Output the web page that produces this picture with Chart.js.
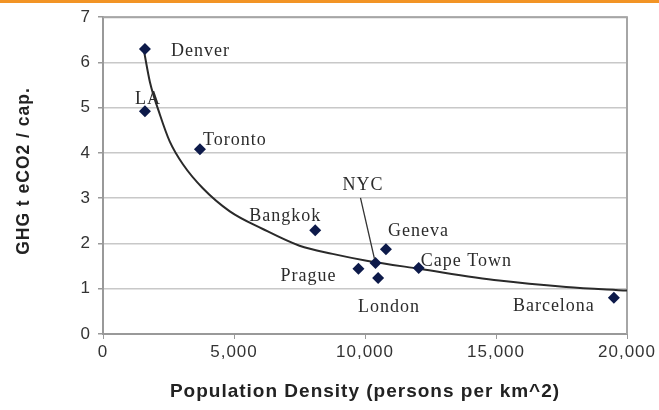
<!DOCTYPE html>
<html>
<head>
<meta charset="utf-8">
<script src="https://cdn.jsdelivr.net/npm/chart.js@4/dist/chart.umd.min.js"></script>
<style>
  body { margin: 0; background: #fff; }
  #wrap { width: 659px; height: 410px; }
</style>
</head>
<body>
<div id="wrap"><canvas id="ghgChart"></canvas></div>
<script>
// cities and their values
const cities = ["Denver", "LA", "Toronto", "Bangkok", "Prague", "NYC", "London", "Geneva", "Cape Town", "Barcelona"];
const density = [1600, 1600, 3700, 8100, 9750, 10400, 10500, 10800, 12050, 19500];
const emissions = [6.3, 4.92, 4.08, 2.29, 1.44, 1.57, 1.24, 1.87, 1.46, 0.8];

// trend curve
const trendDensity = [1560, 1790, 2170, 2550, 3050, 3810, 4840, 6100, 7500, 8760, 10060, 12080, 15120, 17680, 20000];
const trendEmissions = [6.27, 5.57, 4.85, 4.25, 3.75, 3.22, 2.71, 2.32, 1.95, 1.77, 1.62, 1.44, 1.18, 1.04, 0.96];

const xTickStep = 5000;
const yTickStep = 1;
const yTitle = 'GHG t eCO2 / cap.';

// where each label sits relative to its marker (px)
const labelNudge = {
  "Denver": [26, 2], "LA": [-10, -12], "Toronto": [3, -9], "Bangkok": [-66, -14],
  "Prague": [-78, 7], "NYC": [-33, -78], "London": [-20, 29], "Geneva": [2, -18],
  "Cape Town": [2, -7], "Barcelona": [-101, 8]
};

const spacing = {
  id: 'spacing',
  beforeLayout(chart) { chart.ctx.letterSpacing = '1px'; },
  beforeDraw(chart) {
    const ctx = chart.ctx;
    ctx.letterSpacing = '1px';
    ctx.save();
    ctx.fillStyle = '#F29425';
    ctx.fillRect(0, 0, chart.width, 3);
    ctx.restore();
  }
};

const frame = {
  id: 'frame',
  beforeDatasetsDraw(chart) {
    const {ctx, chartArea: a} = chart;
    ctx.save();
    ctx.strokeStyle = '#a6a6a6';
    ctx.lineWidth = 2;
    ctx.beginPath();
    ctx.moveTo(a.left, a.top);
    ctx.lineTo(a.right, a.top);
    ctx.lineTo(a.right, a.bottom);
    ctx.stroke();
    ctx.restore();
  },
  afterDraw(chart) {
    // y title drawn by hand, it sits a little above the axis middle
    const ctx = chart.ctx;
    ctx.save();
    ctx.translate(29, 171);
    ctx.rotate(-Math.PI / 2);
    ctx.font = 'bold 17.5px "Liberation Sans", Arial, sans-serif';
    ctx.fillStyle = '#222';
    ctx.textAlign = 'center';
    ctx.textBaseline = 'alphabetic';
    ctx.fillText(yTitle, 0, 0);
    ctx.restore();
  }
};

const cityLabels = {
  id: 'cityLabels',
  afterDatasetsDraw(chart) {
    const ctx = chart.ctx;
    const meta = chart.getDatasetMeta(0);
    ctx.save();
    ctx.font = '18px "Liberation Serif", "Times New Roman", serif';
    ctx.fillStyle = '#2b2b2b';
    ctx.textBaseline = 'middle';
    ctx.textAlign = 'left';
    meta.data.forEach((pt, i) => {
      const n = labelNudge[cities[i]];
      ctx.fillText(cities[i], pt.x + n[0], pt.y + n[1]);
      if (cities[i] === "NYC") {
        ctx.strokeStyle = '#333';
        ctx.lineWidth = 1.3;
        ctx.beginPath();
        ctx.moveTo(pt.x - 15, pt.y - 65);
        ctx.lineTo(pt.x - 1, pt.y - 4);
        ctx.stroke();
      }
    });
    ctx.restore();
  }
};

new Chart(document.getElementById('ghgChart'), {
  type: 'scatter',
  data: {
    datasets: [
      {
        label: 'Cities',
        data: density.map((d, i) => ({x: d, y: emissions[i]})),
        pointStyle: 'rectRot',
        pointRadius: 6,
        backgroundColor: '#0d1a4a',
        borderColor: '#0d1a4a',
        borderWidth: 0
      },
      {
        label: 'Trend',
        data: trendDensity.map((d, i) => ({x: d, y: trendEmissions[i]})),
        showLine: true,
        cubicInterpolationMode: 'monotone',
        borderColor: '#2a2a2a',
        borderWidth: 2,
        pointRadius: 0
      }
    ]
  },
  options: {
    responsive: true,
    maintainAspectRatio: false,
    animation: false,
    layout: { padding: { left: 0, right: 30, top: 15, bottom: 0 } },
    plugins: { legend: { display: false }, tooltip: { enabled: false } },
    scales: {
      x: {
        type: 'linear',
        min: 0, max: 20000,
        afterFit(s) { s.height = 76; },
        ticks: {
          stepSize: xTickStep,
          padding: 3,
          color: '#333',
          font: { family: '"Liberation Sans", Arial, sans-serif', size: 17 },
          callback: v => v.toLocaleString('en-US')
        },
        grid: { drawOnChartArea: false, tickLength: 5, color: '#999', tickColor: '#999' },
        border: { color: '#999', width: 2 },
        title: {
          display: true,
          text: 'Population Density (persons per km^2)',
          color: '#222',
          font: { family: '"Liberation Sans", Arial, sans-serif', size: 19, weight: 'bold' },
          padding: { top: 4, bottom: 7 }
        }
      },
      y: {
        min: 0, max: 7,
        afterFit(s) { s.width = 103; },
        ticks: {
          stepSize: yTickStep,
          padding: 7,
          color: '#333',
          font: { family: '"Liberation Sans", Arial, sans-serif', size: 17 }
        },
        grid: { color: '#c8c8c8', lineWidth: 1.5, tickLength: 5, tickColor: '#999' },
        border: { color: '#999', width: 2 }
      }
    }
  },
  plugins: [spacing, frame, cityLabels]
});
</script>
</body>
</html>
